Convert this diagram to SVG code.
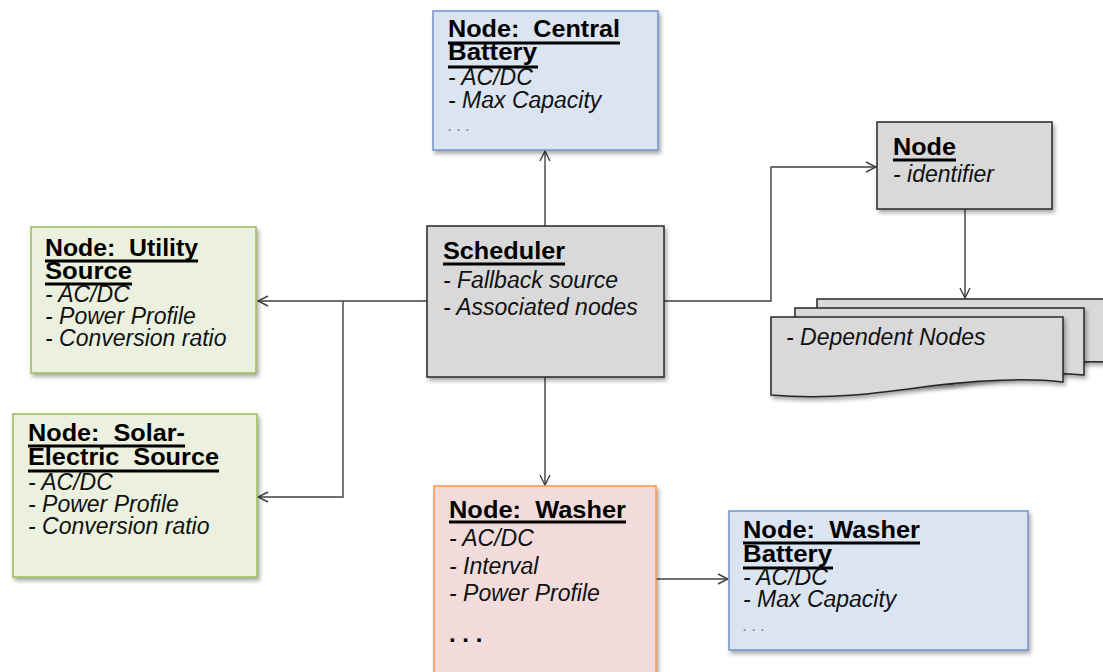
<svg xmlns="http://www.w3.org/2000/svg" width="1103" height="672" viewBox="0 0 1103 672">
  <style>
    .title { font-family: "Liberation Sans", Arial, sans-serif; font-weight: bold; font-size: 24px; fill: #000; }
    .item { font-family: "Liberation Sans", Arial, sans-serif; font-style: italic; font-size: 23px; fill: #111; }
    .more { font-family: "Liberation Sans", Arial, sans-serif; font-style: italic; font-size: 16px; fill: #7f7f7f; }
    .dots { font-family: "Liberation Sans", Arial, sans-serif; font-weight: bold; font-size: 24px; fill: #000; }
    .ul { stroke: #000; stroke-width: 3; }
    .gray { fill: #d9d9d9; stroke: #262626; stroke-width: 1.5; }
    .blue { fill: #dbe5f1; stroke: #7394c6; stroke-width: 1.5; }
    .green { fill: #ebf1de; stroke: #9bbb59; stroke-width: 1.5; }
    .peach { fill: #f2dcdb; stroke: #f79646; stroke-width: 1.5; }
    .wire { fill: none; stroke: #404040; stroke-width: 1.4; }
  </style>
  <defs>
    <filter id="shadow" x="-10%" y="-10%" width="125%" height="130%">
      <feDropShadow dx="2" dy="3" stdDeviation="2" flood-color="#000" flood-opacity="0.35"/>
    </filter>
    <marker id="arrow" viewBox="0 0 12 12" refX="11" refY="6" markerWidth="12" markerHeight="12" markerUnits="userSpaceOnUse" orient="auto">
      <path d="M1,1 L11,6 L1,11" fill="none" stroke="#404040" stroke-width="1.4"/>
    </marker>
  </defs>

  <rect width="1103" height="672" fill="#fff"/>

  <!-- Connectors -->
  <g id="connectors">
    <line class="wire" x1="545" y1="226" x2="545" y2="151" marker-end="url(#arrow)"/>
    <line class="wire" x1="427" y1="301" x2="258" y2="301" marker-end="url(#arrow)"/>
    <polyline class="wire" points="343,301 343,497 258,497" marker-end="url(#arrow)"/>
    <polyline class="wire" points="664,301 771,301 771,167 876,167" marker-end="url(#arrow)"/>
    <line class="wire" x1="965" y1="209" x2="965" y2="298" marker-end="url(#arrow)"/>
    <line class="wire" x1="545" y1="377" x2="545" y2="485" marker-end="url(#arrow)"/>
    <line class="wire" x1="656" y1="579" x2="728" y2="579" marker-end="url(#arrow)"/>
  </g>

  <!-- Central battery -->
  <g id="node-central-battery">
    <rect class="blue" x="433" y="11" width="225" height="139" filter="url(#shadow)"/>
    <text class="title" x="448" y="37" textLength="172" lengthAdjust="spacingAndGlyphs" xml:space="preserve">Node:  Central</text>
    <line class="ul" x1="448" y1="43" x2="620" y2="43"/>
    <text class="title" x="448" y="60" textLength="89" lengthAdjust="spacingAndGlyphs">Battery</text>
    <line class="ul" x1="448" y1="67" x2="538" y2="67"/>
    <text class="item" x="448" y="85">- AC/DC</text>
    <text class="item" x="448" y="108">- Max Capacity</text>
    <text class="more" x="448" y="131">. . .</text>
  </g>

  <!-- Utility source -->
  <g id="node-utility-source">
    <rect class="green" x="31" y="227" width="225" height="146" filter="url(#shadow)"/>
    <text class="title" x="45" y="256" textLength="153" lengthAdjust="spacingAndGlyphs" xml:space="preserve">Node:  Utility</text>
    <line class="ul" x1="45" y1="261" x2="198" y2="261"/>
    <text class="title" x="45" y="279" textLength="87" lengthAdjust="spacingAndGlyphs">Source</text>
    <line class="ul" x1="45" y1="284" x2="132" y2="284"/>
    <text class="item" x="45" y="302">- AC/DC</text>
    <text class="item" x="45" y="324">- Power Profile</text>
    <text class="item" x="45" y="346">- Conversion ratio</text>
  </g>

  <!-- Solar-electric source -->
  <g id="node-solar-source">
    <rect class="green" x="13" y="414" width="244" height="163" filter="url(#shadow)"/>
    <text class="title" x="28" y="441" textLength="157" lengthAdjust="spacingAndGlyphs" xml:space="preserve">Node:  Solar-</text>
    <line class="ul" x1="28" y1="446" x2="185" y2="446"/>
    <text class="title" x="28" y="465" textLength="191" lengthAdjust="spacingAndGlyphs" xml:space="preserve">Electric  Source</text>
    <line class="ul" x1="28" y1="471" x2="219" y2="471"/>
    <text class="item" x="28" y="490">- AC/DC</text>
    <text class="item" x="28" y="512">- Power Profile</text>
    <text class="item" x="28" y="534">- Conversion ratio</text>
  </g>

  <!-- Scheduler -->
  <g id="node-scheduler">
    <rect class="gray" x="427" y="226" width="237" height="151" filter="url(#shadow)"/>
    <text class="title" x="443" y="259" textLength="122" lengthAdjust="spacingAndGlyphs">Scheduler</text>
    <line class="ul" x1="443" y1="264" x2="565" y2="264"/>
    <text class="item" x="443" y="288">- Fallback source</text>
    <text class="item" x="443" y="315">- Associated nodes</text>
  </g>

  <!-- Generic node -->
  <g id="node-generic">
    <rect class="gray" x="877" y="122" width="175" height="87" filter="url(#shadow)"/>
    <text class="title" x="893" y="155" textLength="63" lengthAdjust="spacingAndGlyphs">Node</text>
    <line class="ul" x1="893" y1="160" x2="956" y2="160"/>
    <text class="item" x="893" y="182">- identifier</text>
  </g>

  <!-- Dependent nodes (stacked documents) -->
  <g id="node-dependent">
    <path class="gray" d="M817,299 H1110 V362 C1060,360 1000,368 960,374 L817,376 Z" filter="url(#shadow)"/>
    <path class="gray" d="M795,308 H1084 V375 C1040,370 990,378 950,384 L795,386 Z" filter="url(#shadow)"/>
    <path class="gray" d="M771,317 H1063 V382 C1030,378 980,380 930,386 C880,393 830,400 771,395 Z" filter="url(#shadow)"/>
    <text class="item" x="786" y="345">- Dependent Nodes</text>
  </g>

  <!-- Washer -->
  <g id="node-washer">
    <rect class="peach" x="434" y="486" width="222" height="200" filter="url(#shadow)"/>
    <text class="title" x="449" y="518" textLength="177" lengthAdjust="spacingAndGlyphs" xml:space="preserve">Node:  Washer</text>
    <line class="ul" x1="449" y1="522" x2="626" y2="522"/>
    <text class="item" x="449" y="546">- AC/DC</text>
    <text class="item" x="449" y="574">- Interval</text>
    <text class="item" x="449" y="601">- Power Profile</text>
    <text class="dots" x="449" y="642">. . .</text>
  </g>

  <!-- Washer battery -->
  <g id="node-washer-battery">
    <rect class="blue" x="729" y="511" width="299" height="139" filter="url(#shadow)"/>
    <text class="title" x="743" y="538" textLength="177" lengthAdjust="spacingAndGlyphs" xml:space="preserve">Node:  Washer</text>
    <line class="ul" x1="743" y1="543" x2="920" y2="543"/>
    <text class="title" x="743" y="562" textLength="89" lengthAdjust="spacingAndGlyphs">Battery</text>
    <line class="ul" x1="743" y1="568" x2="833" y2="568"/>
    <text class="item" x="743" y="585">- AC/DC</text>
    <text class="item" x="743" y="607">- Max Capacity</text>
    <text class="more" x="743" y="631">. . .</text>
  </g>
</svg>
